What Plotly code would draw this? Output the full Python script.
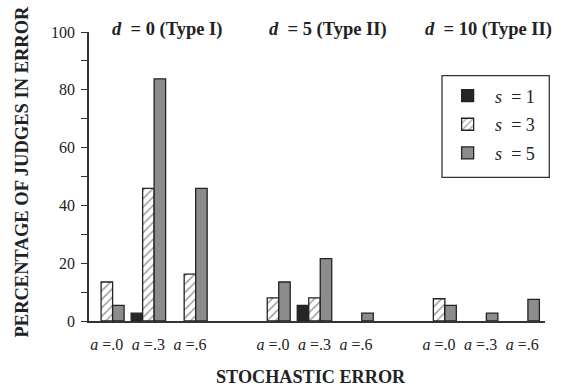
import plotly.graph_objects as go

# ---- data ----
sections = ["d = 0 (Type I)", "d = 5 (Type II)", "d = 10 (Type II)"]
section_titles = ["<b><i>d</i>  = 0 (Type I)</b>", "<b><i>d</i>  = 5 (Type II)</b>", "<b><i>d</i>  = 10 (Type II)</b>"]
a_levels = ["<i>a</i> =.0", "<i>a</i> =.3", "<i>a</i> =.6"]
series_names = ["<i>s</i>  = 1", "<i>s</i>  = 3", "<i>s</i>  = 5"]
s1_values = [0, 2.7, 0, 0, 5.4, 0, 0, 0, 0]
s3_values = [13.5, 45.9, 16.2, 8.0, 8.0, 0, 7.7, 0, 0]
s5_values = [5.4, 83.8, 45.9, 13.5, 21.6, 2.7, 5.4, 2.7, 7.5]
y_ticks = [0, 20, 40, 60, 80, 100]

# category positions: 3 levels per section, one empty slot between sections
xpos = [si * 4 + ai for si in range(len(sections)) for ai in range(len(a_levels))]
xlabels = [a_levels[ai] for si in range(len(sections)) for ai in range(len(a_levels))]

FONT = "Liberation Serif, Times New Roman, serif"
INK = "#222222"

fig = go.Figure()
styles = [
    dict(color="#262626", line=dict(color=INK, width=1.3)),
    dict(color="white", line=dict(color=INK, width=1.3),
         pattern=dict(shape="/", fgcolor="#333333", bgcolor="white", size=6, solidity=0.25)),
    dict(color="#8c8c8c", line=dict(color=INK, width=1.3)),
]
for i, (name, vals, st) in enumerate(zip(series_names, [s1_values, s3_values, s5_values], styles)):
    fig.add_trace(go.Bar(x=xpos, y=[v if v else None for v in vals], name=name, marker=st,
                         legendgroup=f"g{i}"))

fig.update_layout(
    width=565, height=387,
    margin=dict(l=89, r=20, t=32, b=66),
    paper_bgcolor="white", plot_bgcolor="white",
    barmode="group", bargap=0.17, bargroupgap=0,
    font=dict(family=FONT, color=INK, size=15),
    showlegend=True,
    legend=dict(x=0.770, y=0.843, xanchor="left", yanchor="top",
                bgcolor="rgba(0,0,0,0)", borderwidth=0,
                font=dict(family=FONT, size=18, color=INK),
                itemwidth=45, tracegroupgap=2.3),
)
fig.update_xaxes(range=[-0.43, 10.55], tickvals=xpos, ticktext=xlabels,
                 showline=True, linecolor="#333333", linewidth=1.6,
                 ticks="outside", ticklen=8, tickcolor="rgba(0,0,0,0)",
                 showgrid=False, zeroline=False,
                 tickfont=dict(family=FONT, size=16, color=INK))
fig.update_yaxes(range=[0, 100], tickvals=y_ticks,
                 showline=True, linecolor="#333333", linewidth=1.6,
                 ticks="outside", ticklen=6, tickwidth=1.3, tickcolor="#333333",
                 minor=dict(ticks="outside", ticklen=6, tickwidth=1.3, tickcolor="#333333", dtick=10),
                 showgrid=False, zeroline=False, ticklabelstandoff=3,
                 tickfont=dict(family=FONT, size=16, color=INK))

# section titles
title_x = [1.45, 5.32, 9.19]
for tx, t in zip(title_x, section_titles):
    fig.add_annotation(x=tx, y=(321 - 29) / 289, xref="x", yref="paper", yanchor="middle", xanchor="center",
                       text=t, showarrow=False,
                       font=dict(family=FONT, size=18.5, color=INK))

# axis titles
fig.add_annotation(x=(311 - 89) / 456, y=(321 - 376.5) / 289, xref="paper", yref="paper",
                   text="<b>STOCHASTIC ERROR</b>", showarrow=False,
                   xanchor="center", yanchor="middle",
                   font=dict(family=FONT, size=18.2, color=INK))
fig.add_annotation(x=(21 - 89) / 456, y=(321 - 171.5) / 289, xref="paper", yref="paper",
                   text="<b>PERCENTAGE OF JUDGES IN ERROR</b>", showarrow=False, textangle=-90,
                   xanchor="center", yanchor="middle",
                   font=dict(family=FONT, size=18.5, color=INK))

# legend frame
fig.add_shape(type="rect", xref="paper", yref="paper",
              x0=(442 - 89) / 456, x1=(549.3 - 89) / 456,
              y0=(321 - 177.3) / 289, y1=(321 - 75.7) / 289,
              line=dict(color="#333333", width=1.3), fillcolor="rgba(0,0,0,0)")

fig.write_html("out.html", config={"displayModeBar": False},
               post_script="document.body.style.margin='0px';document.body.style.overflow='hidden';")
